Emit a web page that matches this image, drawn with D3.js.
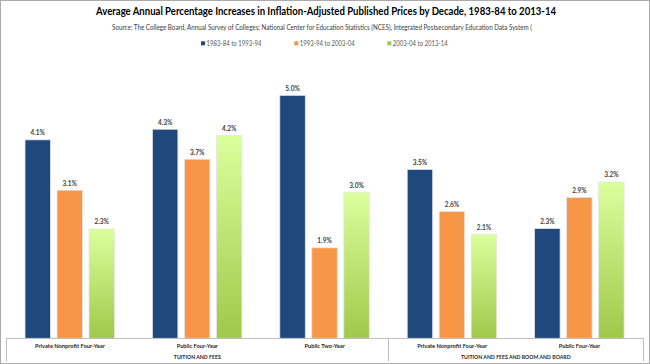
<!DOCTYPE html>
<html>
<head>
<meta charset="utf-8">
<script src="https://cdn.jsdelivr.net/npm/d3@7"></script>
<style>
  html, body { margin: 0; padding: 0; background: #fff; }
  svg { display: block; font-family: "Lato", "Open Sans", sans-serif; }
</style>
</head>
<body>
<svg id="chart" width="650" height="364"></svg>
<script>
const title = "Average Annual Percentage Increases in Inflation-Adjusted Published Prices by Decade, 1983-84 to 2013-14";
const subtitle = "Source:  The College Board, Annual Survey of Colleges; National Center for Education Statistics (NCES), Integrated Postsecondary Education Data System (";
const categories = ["Private Nonprofit Four-Year", "Public Four-Year", "Public Two-Year", "Private Nonprofit Four-Year ", "Public Four-Year "];
const groupLabels = ["TUITION AND FEES", "TUITION AND FEES AND ROOM AND BOARD"];
const groupSpans = [3, 2];
const seriesNames = ["1983-84 to 1993-94", "1993-94 to 2003-04", "2003-04 to 2013-14"];
const decade1 = [4.10, 4.32, 5.02, 3.49, 2.27];
const decade2 = [3.06, 3.70, 1.87, 2.62, 2.91];
const decade3 = [2.26, 4.19, 3.02, 2.15, 3.23];
const seriesValues = [decade1, decade2, decade3];

const svg = d3.select("#chart");
const W = 650, H = 364;
const plotLeft = 6.2, plotRight = 643.2, baseY = 338.3, topY = 47.9;

// gradient for green series
const defs = svg.append("defs");
const grad = defs.append("linearGradient").attr("id", "greenGrad")
  .attr("x1", 0).attr("y1", 0).attr("x2", 0).attr("y2", 1);
grad.append("stop").attr("offset", "0%").attr("stop-color", "#DBFF9C");
grad.append("stop").attr("offset", "100%").attr("stop-color", "#A0C84A");
const fills = ["#1F497D", "#F79646", "url(#greenGrad)"];
const legendColors = ["#1F497D", "#F79646", "#9BC84A"];

// outer border
svg.append("rect").attr("x", 0.5).attr("y", 0.5).attr("width", W - 1).attr("height", H - 1)
  .attr("fill", "#fff").attr("stroke", "#ababab");

// title
svg.append("text").attr("x", 326).attr("y", 15).attr("text-anchor", "middle")
  .attr("font-size", 11.5).attr("font-weight", "bold").attr("fill", "#000")
  .attr("textLength", 460).attr("lengthAdjust", "spacingAndGlyphs").text(title);
svg.append("text").attr("x", 322).attr("y", 30).attr("text-anchor", "middle")
  .attr("font-size", 6.8).attr("fill", "#404040")
  .attr("textLength", 420).attr("lengthAdjust", "spacingAndGlyphs").text(subtitle);

// legend
const legendX = [201, 294.3, 387.3];
seriesNames.forEach((s, i) => {
  svg.append("rect").attr("x", legendX[i]).attr("y", 41.3).attr("width", 4).attr("height", 4)
    .attr("fill", legendColors[i]);
  svg.append("text").attr("x", legendX[i] + 5.5).attr("y", 45.7)
    .attr("font-size", 6.6).attr("fill", "#595959")
    .attr("textLength", 55).attr("lengthAdjust", "spacingAndGlyphs").text(s);
});

// scales
const x0 = d3.scaleBand().domain(categories).range([plotLeft, plotRight]).paddingInner(0).paddingOuter(0);
const x1 = d3.scaleBand().domain(seriesNames).range([18.8, 108.3]).paddingInner(0.203).paddingOuter(0);
const y = d3.scaleLinear().domain([0, 6]).range([baseY, topY]);

// bars
const data = [];
categories.forEach((c, ci) => {
  seriesNames.forEach((s, si) => {
    data.push({ c, s, si, v: seriesValues[si][ci] });
  });
});

svg.append("g").selectAll("rect").data(data).join("rect")
  .attr("x", d => x0(d.c) + x1(d.s))
  .attr("y", d => y(d.v))
  .attr("width", x1.bandwidth())
  .attr("height", d => baseY - y(d.v))
  .attr("fill", d => fills[d.si])
  .attr("stroke", "#e6e6e6").attr("stroke-width", 0.8);

svg.append("g").selectAll("text").data(data).join("text")
  .attr("x", d => x0(d.c) + x1(d.s) + x1.bandwidth() / 2)
  .attr("y", d => y(d.v) - 4.5)
  .attr("text-anchor", "middle")
  .attr("font-size", 6.5).attr("font-weight", "bold").attr("fill", "#404040")
  .text(d => d3.format(".1f")(d.v) + "%");

// category axis (multi-level)
const axisG = svg.append("g").attr("stroke", "#bfbfbf").attr("stroke-width", 1);
axisG.append("line").attr("x1", plotLeft).attr("x2", plotRight).attr("y1", baseY + 0.2).attr("y2", baseY + 0.2);
let idx = 0;
const bounds = [plotLeft];
groupSpans.forEach(n => { idx += n; bounds.push(x0(categories[idx - 1]) + x0.bandwidth()); });
bounds.forEach(bx => {
  axisG.append("line").attr("x1", Math.round(bx) + 0.5).attr("x2", Math.round(bx) + 0.5)
    .attr("y1", baseY).attr("y2", 361.5);
});

svg.append("g").selectAll("text").data(categories).join("text")
  .attr("x", d => x0(d) + x0.bandwidth() / 2)
  .attr("y", 348.3)
  .attr("text-anchor", "middle")
  .attr("font-size", 5.7).attr("font-weight", "bold").attr("fill", "#262626")
  .text(d => d.trim());

groupLabels.forEach((g, gi) => {
  const a = bounds[gi], b = bounds[gi + 1];
  svg.append("text").attr("x", (a + b) / 2).attr("y", 359.3).attr("text-anchor", "middle")
    .attr("font-size", 5.2).attr("font-weight", "bold").attr("fill", "#262626").text(g);
});
</script>
</body>
</html>
